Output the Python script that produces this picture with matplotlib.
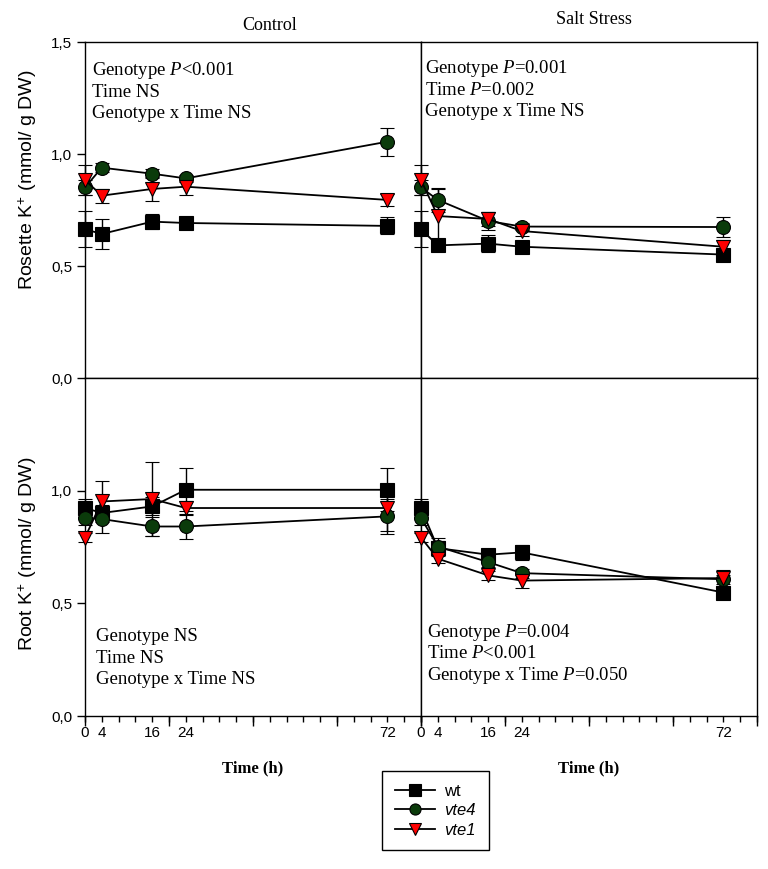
import numpy as np
import matplotlib
matplotlib.use("Agg")
import matplotlib.pyplot as plt
from matplotlib.lines import Line2D
from matplotlib.ticker import MultipleLocator, FixedLocator, FixedFormatter, NullFormatter

plt.rcParams['font.family'] = 'Liberation Sans'
plt.rcParams['mathtext.fontset'] = 'custom'
plt.rcParams['mathtext.rm'] = 'Liberation Serif'
plt.rcParams['mathtext.it'] = 'Liberation Serif:italic'
plt.rcParams['mathtext.sf'] = 'Liberation Sans'

# sampling times (h)
times = [0, 4, 16, 24, 72]
tick_labels = ['0', '4', '16', '24', '72']

# rosette K+, control
wt_rc = [0.664, 0.643, 0.698, 0.692, 0.679]
wt_rc_err = [0.08, 0.065, 0.033, 0.015, 0.038]
vte4_rc = [0.851, 0.939, 0.912, 0.891, 1.055]
vte4_rc_err = [0.035, 0.02, 0.02, 0.015, 0.062]
vte1_rc = [0.884, 0.814, 0.844, 0.854, 0.795]
vte1_rc_err = [0.065, 0.031, 0.054, 0.036, 0.026]

# rosette K+, salt stress
wt_rs = [0.664, 0.592, 0.600, 0.586, 0.551]
wt_rs_err = [0.08, 0.02, 0.037, 0.015, 0.02]
vte4_rs = [0.851, 0.795, 0.701, 0.676, 0.674]
vte4_rs_err = [0.035, 0.052, 0.04, 0.015, 0.046]
vte1_rs = [0.884, 0.723, 0.710, 0.656, 0.586]
vte1_rs_err = [0.065, 0.12, 0.03, 0.02, 0.03]

# root K+, control
wt_oc = [0.923, 0.901, 0.930, 1.004, 1.004]
wt_oc_err = [0.04, 0.03, 0.04, 0.096, 0.096]
vte4_oc = [0.879, 0.874, 0.841, 0.841, 0.886]
vte4_oc_err = [0.03, 0.062, 0.04, 0.056, 0.077]
vte1_oc = [0.792, 0.952, 0.963, 0.923, 0.923]
vte1_oc_err = [0.02, 0.089, 0.163, 0.03, 0.1]

# root K+, salt stress
wt_os = [0.923, 0.745, 0.716, 0.726, 0.548]
wt_os_err = [0.04, 0.03, 0.02, 0.034, 0.02]
vte4_os = [0.879, 0.752, 0.683, 0.634, 0.607]
vte4_os_err = [0.03, 0.04, 0.02, 0.02, 0.02]
vte1_os = [0.792, 0.698, 0.624, 0.601, 0.612]
vte1_os_err = [0.02, 0.02, 0.02, 0.034, 0.034]

stats_rc = ['Genotype $P$<0.001', 'Time NS', 'Genotype x Time NS']
stats_rs = ['Genotype $P$=0.001', 'Time $P$=0.002', 'Genotype x Time NS']
stats_oc = ['Genotype NS', 'Time NS', 'Genotype x Time NS']
stats_os = ['Genotype $P$=0.004', 'Time $P$<0.001', 'Genotype x Time $P$=0.050']

styles = {
    'wt': dict(marker='s', mfc='black', ms=9.5),
    'vte4': dict(marker='o', mfc='#0b3b0b', ms=10),
    'vte1': dict(marker='v', mfc='#ff0000', ms=10),
}

fig = plt.figure(figsize=(7.68, 8.69), dpi=100)
L, W = 85 / 768, 336 / 768
ax_rc = fig.add_axes([L, 1 - 378 / 869, W, 336 / 869])
ax_rs = fig.add_axes([L + W, 1 - 378 / 869, W, 336 / 869])
ax_oc = fig.add_axes([L, 1 - 716 / 869, W, 338 / 869])
ax_os = fig.add_axes([L + W, 1 - 716 / 869, W, 338 / 869])


def draw(ax, series, stats, ys):
    for name, (vals, errs) in series.items():
        st = styles[name]
        ax.errorbar(times, vals, yerr=errs, color='black', lw=1.3, ecolor='black',
                    elinewidth=1.0, capsize=5, capthick=1.0, marker=st['marker'],
                    mfc=st['mfc'], mec='black', mew=0.8, ms=st['ms'],
                    clip_on=False, zorder=3)
    ax.set_xlim(0, 80)
    ax.set_ylim(0, 1.5)
    for sp in ax.spines.values():
        sp.set_linewidth(1.0)
    xs, yy = ys
    for line, y in zip(stats, yy):
        ax.text(xs, y, line, transform=ax.transAxes, fontsize=13.5,
                family='Liberation Serif', va='center', ha='left')


draw(ax_rc, {'wt': (wt_rc, wt_rc_err), 'vte4': (vte4_rc, vte4_rc_err),
             'vte1': (vte1_rc, vte1_rc_err)}, stats_rc, (0.021, [0.914, 0.851, 0.786]))
draw(ax_rs, {'wt': (wt_rs, wt_rs_err), 'vte4': (vte4_rs, vte4_rs_err),
             'vte1': (vte1_rs, vte1_rs_err)}, stats_rs, (0.012, [0.922, 0.857, 0.792]))
draw(ax_oc, {'wt': (wt_oc, wt_oc_err), 'vte4': (vte4_oc, vte4_oc_err),
             'vte1': (vte1_oc, vte1_oc_err)}, stats_oc, (0.033, [0.235, 0.171, 0.107]))
draw(ax_os, {'wt': (wt_os, wt_os_err), 'vte4': (vte4_os, vte4_os_err),
             'vte1': (vte1_os, vte1_os_err)}, stats_os, (0.019, [0.246, 0.185, 0.121]))

# y axes
for ax, ticks in ((ax_rc, [0, 0.5, 1.0, 1.5]), (ax_oc, [0, 0.5, 1.0])):
    ax.set_yticks(ticks)
    ax.set_yticklabels([('%.1f' % t).replace('.', ',') for t in ticks], fontsize=11)
    ax.tick_params(axis='y', direction='out', length=6, width=1.0, pad=3)
for ax in (ax_rs, ax_os):
    ax.set_yticks([])

# x axes
for ax in (ax_rc, ax_rs):
    ax.set_xticks([])
for ax in (ax_oc, ax_os):
    ax.xaxis.remove_overlapping_locs = False
    ax.xaxis.set_major_locator(MultipleLocator(20))
    ax.xaxis.set_major_formatter(NullFormatter())
    ax.xaxis.set_minor_locator(FixedLocator(np.arange(0, 81, 4)))
    minor_labels = [tick_labels[times.index(t)] if t in times else '' for t in range(0, 81, 4)]
    ax.xaxis.set_minor_formatter(FixedFormatter(minor_labels))
    ax.tick_params(axis='x', which='major', direction='out', length=7, width=1.0)
    ax.tick_params(axis='x', which='minor', direction='out', length=4, width=1.0,
                   labelsize=11, pad=3)
    ax.set_xlabel('Time (h)', family='Liberation Serif', fontweight='bold',
                  fontsize=12, labelpad=15)

fig.text(270 / 768, 1 - 25 / 869, 'Control', family='Liberation Serif', fontsize=13,
         ha='center', va='center')
fig.text(594 / 768, 1 - 19 / 869, 'Salt Stress', family='Liberation Serif', fontsize=13,
         ha='center', va='center')
fig.text(28 / 768, 1 - 180 / 869, 'Rosette K$^\\mathsf{+}$ (mmol/ g DW)', rotation=90,
         fontsize=14, ha='center', va='center')
fig.text(28 / 768, 1 - 554 / 869, 'Root K$^\\mathsf{+}$ (mmol/ g DW)', rotation=90,
         fontsize=14, ha='center', va='center')

handles = [Line2D([], [], color='black', lw=1.3, marker=styles[n]['marker'],
                  mfc=styles[n]['mfc'], mec='black', mew=0.8, ms=8) for n in styles]
leg = fig.legend(handles, list(styles), loc='upper left',
                 bbox_to_anchor=(382 / 768, 1 - 771 / 869), borderaxespad=0,
                 frameon=True, fancybox=False, edgecolor='black', framealpha=1,
                 fontsize=12, handlelength=2.4, borderpad=0.75, labelspacing=0.28,
                 handletextpad=0.6)
leg.get_frame().set_linewidth(1.0)
for t in leg.get_texts()[1:]:
    t.set_style('italic')

fig.savefig('out.png', dpi=100)
